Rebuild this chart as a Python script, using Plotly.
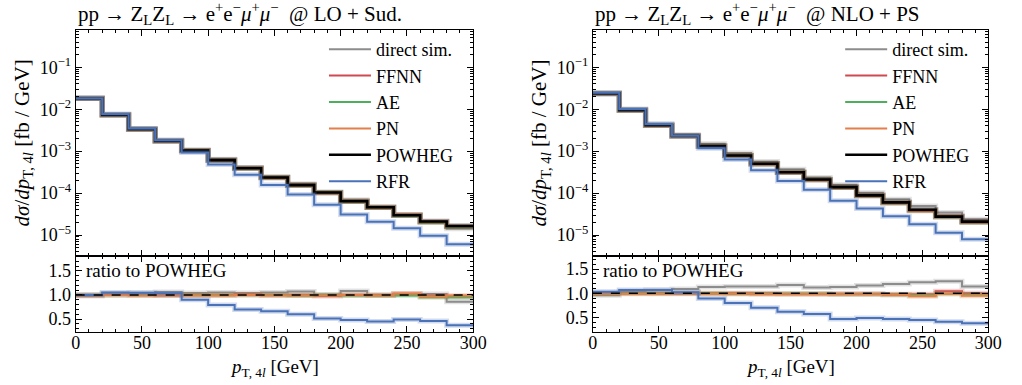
import numpy as np
import plotly.graph_objects as go

# ---------------- data ----------------
bin_edges = [0, 20, 40, 60, 80, 100, 120, 140, 160, 180, 200, 220, 240, 260, 280, 300]

# POWHEG reference distributions [fb/GeV]
powheg_lo = [1.83e-2, 7.3e-3, 3.33e-3, 1.75e-3, 1.03e-3, 6.1e-4, 3.9e-4, 2.35e-4,
             1.55e-4, 1.03e-4, 6.4e-5, 4.6e-5, 2.95e-5, 2.1e-5, 1.64e-5]
powheg_nlo = [2.38e-2, 9.5e-3, 4.13e-3, 2.29e-3, 1.32e-3, 7.9e-4, 5.0e-4, 3.15e-4,
              2.1e-4, 1.39e-4, 8.8e-5, 6.0e-5, 4.0e-5, 2.75e-5, 2.09e-5]

# ratios to POWHEG, LO + Sud.
direct_lo = [0.98, 1.03, 1.04, 1.06, 1.04, 1.05, 1.04, 1.05, 1.07, 1.01, 1.08, 1.00, 1.02, 1.02, 0.86]
ffnn_lo = [1.00, 1.00, 1.00, 0.99, 1.00, 1.00, 1.01, 1.00, 1.00, 0.98, 1.00, 1.00, 1.02, 0.98, 0.97]
ae_lo = [1.00, 1.00, 1.00, 1.00, 1.00, 1.00, 1.00, 1.00, 0.99, 1.00, 0.99, 0.99, 0.99, 0.95, 0.95]
pn_lo = [0.99, 1.00, 0.99, 1.00, 0.99, 0.99, 1.00, 0.99, 0.99, 0.99, 1.00, 0.99, 1.03, 0.97, 0.99]
rfr_lo = [1.00, 1.05, 1.045, 1.035, 0.90, 0.79, 0.70, 0.66, 0.60, 0.51, 0.48, 0.45, 0.49, 0.46, 0.37]

# ratios to POWHEG, NLO + PS
direct_nlo = [0.96, 1.04, 1.07, 1.09, 1.13, 1.14, 1.14, 1.17, 1.12, 1.13, 1.16, 1.19, 1.23, 1.25, 1.14]
ffnn_nlo = [1.00, 1.00, 1.00, 1.00, 1.00, 1.00, 1.00, 0.99, 0.99, 0.99, 0.99, 0.98, 0.98, 1.04, 1.00]
ae_nlo = [0.99, 1.00, 1.00, 1.00, 1.00, 0.99, 0.99, 0.99, 0.99, 0.98, 0.98, 0.97, 0.96, 0.99, 0.97]
pn_nlo = [0.99, 0.99, 0.99, 0.99, 0.99, 0.99, 0.98, 0.98, 0.98, 0.98, 0.98, 0.97, 0.94, 0.99, 0.95]
rfr_nlo = [1.03, 1.07, 1.07, 1.02, 0.89, 0.80, 0.70, 0.62, 0.57, 0.47, 0.49, 0.47, 0.45, 0.41, 0.38]

series_names = ["direct sim.", "FFNN", "AE", "PN", "POWHEG", "RFR"]
titles = ["pp → Z<sub>L</sub>Z<sub>L</sub> → e<sup>+</sup>e<sup>−</sup><i>μ</i><sup>+</sup><i>μ</i><sup>−</sup>  @ LO + Sud.",
          "pp → Z<sub>L</sub>Z<sub>L</sub> → e<sup>+</sup>e<sup>−</sup><i>μ</i><sup>+</sup><i>μ</i><sup>−</sup>  @ NLO + PS"]
ytick_vals = [1e-5, 1e-4, 1e-3, 1e-2, 1e-1]
ytick_text = ["10<sup>−5</sup>", "10<sup>−4</sup>", "10<sup>−3</sup>", "10<sup>−2</sup>", "10<sup>−1</sup>"]

# ---------------- style ----------------
colors = {"direct sim.": "#8c8c8c", "FFNN": "#d1494e", "AE": "#4fae5e",
          "PN": "#e47f4a", "POWHEG": "#000000", "RFR": "#4a72b8"}
FONT = "Liberation Serif"
FS = 19
TFS = 18
LFS = 18

fig = go.Figure()

def step(vals):
    v = list(vals)
    return v + [v[-1]]

panels = [
    dict(pw=powheg_lo, ratios={"direct sim.": direct_lo, "FFNN": ffnn_lo, "AE": ae_lo, "PN": pn_lo, "RFR": rfr_lo},
         xm="x", ym="y", xr="x2", yr="y2", legend="legend"),
    dict(pw=powheg_nlo, ratios={"direct sim.": direct_nlo, "FFNN": ffnn_nlo, "AE": ae_nlo, "PN": pn_nlo, "RFR": rfr_nlo},
         xm="x3", ym="y3", xr="x4", yr="y4", legend="legend2"),
]

for p in panels:
    pw = np.array(p["pw"])
    main_vals = {}
    ratio_vals = {}
    for name in series_names:
        if name == "POWHEG":
            main_vals[name] = pw
            ratio_vals[name] = np.ones_like(pw)
        else:
            r = np.array(p["ratios"][name])
            main_vals[name] = r * pw
            ratio_vals[name] = r
    order_main = ["direct sim.", "FFNN", "AE", "PN", "POWHEG", "RFR"]
    for name in order_main:
        c = colors[name]
        w = 2.6 if name == "POWHEG" else 2.0
        # halo
        fig.add_trace(go.Scatter(x=bin_edges, y=step(main_vals[name]), mode="lines",
                                 line=dict(color=c, width=w + 3, shape="hv"), opacity=0.25,
                                 xaxis=p["xm"], yaxis=p["ym"], showlegend=False, hoverinfo="skip"))
        fig.add_trace(go.Scatter(x=bin_edges, y=step(main_vals[name]), mode="lines", name=name,
                                 line=dict(color=c, width=w, shape="hv"),
                                 xaxis=p["xm"], yaxis=p["ym"], legend=p["legend"],
                                 legendgroup=p["legend"] + name, showlegend=True))
    order_ratio = ["direct sim.", "FFNN", "AE", "PN", "RFR", "POWHEG"]
    for name in order_ratio:
        c = colors[name]
        if name == "POWHEG":
            fig.add_trace(go.Scatter(x=bin_edges, y=step(ratio_vals[name]), mode="lines",
                                     line=dict(color=c, width=1.5, shape="hv", dash="dash"),
                                     xaxis=p["xr"], yaxis=p["yr"], showlegend=False))
        else:
            fig.add_trace(go.Scatter(x=bin_edges, y=step(ratio_vals[name]), mode="lines",
                                     line=dict(color=c, width=5, shape="hv"), opacity=0.25,
                                     xaxis=p["xr"], yaxis=p["yr"], showlegend=False, hoverinfo="skip"))
            fig.add_trace(go.Scatter(x=bin_edges, y=step(ratio_vals[name]), mode="lines",
                                     line=dict(color=c, width=2.0, shape="hv"),
                                     xaxis=p["xr"], yaxis=p["yr"], showlegend=False))

W, H = 1022, 385
def px_x(v):
    return v / W
def px_y(v):
    return 1 - v / H

xdom = [[px_x(72), px_x(477)], [px_x(599), px_x(1002)]]
main_dom = [px_y(256), px_y(29.5)]
ratio_dom = [px_y(332), px_y(256)]

common_axis = dict(showline=True, linecolor="black", linewidth=1, mirror="allticks",
                   ticks="inside", ticklen=6, tickcolor="black", showgrid=False, zeroline=False,
                   tickfont=dict(family=FONT, size=TFS, color="black"))
minor_log = dict(tickvals=[k * 10.0 ** e for e in range(-6, 0) for k in range(2, 10)],
                 ticks="inside", ticklen=3, tickcolor="black", showgrid=False)

layout = dict(width=W, height=H, margin=dict(l=0, r=0, t=0, b=0),
              paper_bgcolor="white", plot_bgcolor="white",
              font=dict(family=FONT, size=FS, color="black"))

for i, (xm, ym, xr, yr) in enumerate([("xaxis", "yaxis", "xaxis2", "yaxis2"),
                                       ("xaxis3", "yaxis3", "xaxis4", "yaxis4")]):
    xr_id = "x2" if i == 0 else "x4"
    yrng = [0.23, 1.81] if i == 0 else [0.2, 1.77]
    layout[xm] = dict(common_axis, domain=xdom[i], range=[0, 300], dtick=50, tick0=0,
                      showticklabels=False, matches=xr_id, anchor="y" if i == 0 else "y3",
                      minor=dict(dtick=10, ticks="inside", ticklen=3, tickcolor="black"))
    layout[ym] = dict(common_axis, domain=main_dom, type="log", range=[-5.5, -0.1],
                      tickmode="array", tickvals=ytick_vals, ticktext=ytick_text,
                      anchor="x" if i == 0 else "x3", minor=minor_log)
    layout[xr] = dict(common_axis, domain=xdom[i], range=[0, 300], dtick=50, tick0=0,
                      anchor="y2" if i == 0 else "y4", ticklabelstandoff=-6,
                      minor=dict(dtick=10, ticks="inside", ticklen=3, tickcolor="black"))
    layout[yr] = dict(common_axis, domain=ratio_dom, range=yrng, dtick=0.5, tick0=0.5,
                      tickformat=".1f", anchor="x2" if i == 0 else "x4",
                      minor=dict(dtick=0.1, tick0=0, ticks="inside", ticklen=3, tickcolor="black"))

legend_common = dict(bgcolor="rgba(0,0,0,0)", borderwidth=0, font=dict(family=FONT, size=LFS),
                     itemwidth=42, xanchor="left", yanchor="top", tracegroupgap=0,
                     traceorder="normal")
layout["legend"] = dict(legend_common, x=px_x(325), y=px_y(31))
layout["legend2"] = dict(legend_common, x=px_x(851), y=px_y(31))

annotations = []
for i in range(2):
    x0 = xdom[i][0]
    annotations.append(dict(text=titles[i], x=x0, y=px_y(13), xref="paper", yref="paper",
                            xanchor="left", yanchor="middle", showarrow=False,
                            font=dict(family=FONT, size=21)))
    annotations.append(dict(text="ratio to POWHEG", x=x0 + px_x(8), y=px_y(270),
                            xref="paper", yref="paper", xanchor="left", yanchor="middle",
                            showarrow=False, font=dict(family=FONT, size=FS)))
    annotations.append(dict(text="<i>p</i><sub>T, 4<i>l</i></sub> [GeV]",
                            x=(xdom[i][0] + xdom[i][1]) / 2, y=px_y(368), xref="paper", yref="paper",
                            xanchor="center", yanchor="middle", showarrow=False,
                            font=dict(family=FONT, size=FS)))
    annotations.append(dict(text="<i>dσ</i>/<i>dp</i><sub>T, 4<i>l</i></sub> [fb / GeV]",
                            x=x0 - px_x(54), y=(main_dom[0] + main_dom[1]) / 2, xref="paper", yref="paper",
                            xanchor="center", yanchor="middle", textangle=-90, showarrow=False,
                            font=dict(family=FONT, size=21)))
layout["annotations"] = annotations

fig.update_layout(**layout)
fig.write_html("out.html")
